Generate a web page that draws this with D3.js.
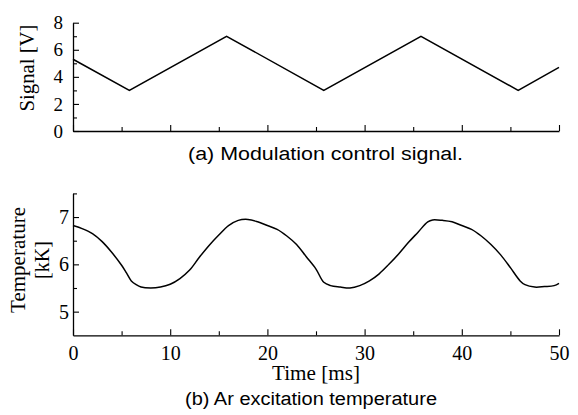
<!DOCTYPE html>
<html><head><meta charset="utf-8">
<script src="https://cdn.jsdelivr.net/npm/d3@7"></script>
<style>
html,body{margin:0;padding:0;background:#fff;}
svg{display:block;}
</style></head>
<body>
<svg id="c" width="578" height="415"></svg>
<script>
// ---- data ----
const timeDomain = [0, 50];
const signalTimes  = [0, 5.8, 15.8, 25.8, 35.8, 45.8, 50];
const signalValues = [5.3, 3.0, 7.0, 3.0, 7.0, 3.0, 4.7];
const signalTicks = [0, 2, 4, 6, 8];
const signalMinorTicks = [1, 3, 5, 7];

const tempTimes = [0, 1, 2, 3, 4, 5, 5.5, 6, 6.5, 7, 8, 9, 10, 11, 12, 13, 14, 15, 16, 17, 18, 19, 20, 21, 22, 23, 24, 25, 25.8, 26.5, 27.5, 28.5, 29.5, 30.5, 31.5, 32.5, 33.5, 34.5, 35.5, 36.5, 37, 38, 39, 40, 41, 42, 43, 44, 45, 46, 46.5, 47.5, 48.5, 49.5, 50];
const tempValues = [6.82, 6.75, 6.65, 6.48, 6.25, 5.98, 5.82, 5.65, 5.57, 5.52, 5.50, 5.52, 5.58, 5.70, 5.88, 6.15, 6.40, 6.62, 6.82, 6.93, 6.95, 6.90, 6.82, 6.74, 6.60, 6.42, 6.16, 5.90, 5.62, 5.55, 5.52, 5.50, 5.55, 5.65, 5.80, 6.00, 6.22, 6.46, 6.68, 6.90, 6.94, 6.93, 6.90, 6.82, 6.74, 6.60, 6.42, 6.20, 5.93, 5.65, 5.57, 5.52, 5.53, 5.55, 5.60];
const tempTicks = [5, 6, 7];
const tempMinorTicks = [5.5, 6.5, 7.5];
const timeTicks = [0, 10, 20, 30, 40, 50];
const timeMinorTicks = [5, 15, 25, 35, 45];

const captionA = "(a) Modulation control signal.";
const captionB = "(b) Ar excitation temperature";
const labelSignal = "Signal [V]";
const labelTemp1 = "Temperature";
const labelTemp2 = "[kK]";
const labelTime = "Time [ms]";

// ---- drawing ----
const svg = d3.select("#c");
const serif = "'Liberation Serif', 'Times New Roman', serif";
const sans = "'Liberation Sans', Arial, sans-serif";

const x = d3.scaleLinear().domain(timeDomain).range([73, 559]);
const yA = d3.scaleLinear().domain([0, 8]).range([131, 22.7]);
const yB = d3.scaleLinear().domain([4.5, 7.5]).range([335.3, 193.4]);

function styleAxis(g, fs) {
  g.attr("font-family", null).attr("font-size", null);
  g.selectAll("path.domain").attr("stroke", "#000").attr("stroke-width", 1.3);
  g.selectAll(".tick line").attr("stroke", "#000").attr("stroke-width", 1.1);
  g.selectAll("text").style("font-family", serif).style("font-size", fs + "px").attr("fill", "#000");
}

// Top panel axes
const gAy = svg.append("g").attr("transform", "translate(73,0)")
  .call(d3.axisLeft(yA).tickValues(signalTicks).tickSize(-6).tickSizeOuter(0).tickPadding(10).tickFormat(d3.format("d")));
styleAxis(gAy, 19);
const gAyMin = svg.append("g").attr("transform", "translate(73,0)")
  .call(d3.axisLeft(yA).tickValues(signalMinorTicks).tickSize(-4).tickSizeOuter(0).tickFormat(""));
styleAxis(gAyMin, 19); gAyMin.select("path.domain").remove();

const gAx = svg.append("g").attr("transform", "translate(0,131)")
  .call(d3.axisBottom(x).tickValues(timeTicks).tickSize(-6).tickSizeOuter(0).tickFormat(""));
styleAxis(gAx, 19);
const gAxMin = svg.append("g").attr("transform", "translate(0,131)")
  .call(d3.axisBottom(x).tickValues(timeMinorTicks).tickSize(-4).tickSizeOuter(0).tickFormat(""));
styleAxis(gAxMin, 19); gAxMin.select("path.domain").remove();

const lineA = d3.line().x((d, i) => x(signalTimes[i])).y(d => yA(d));
svg.append("path").datum(signalValues).attr("d", lineA)
  .attr("fill", "none").attr("stroke", "#000").attr("stroke-width", 1.5).attr("stroke-linejoin", "miter");

svg.append("text").attr("transform", "translate(34,68) rotate(-90)")
  .attr("text-anchor", "middle").style("font-family", serif).style("font-size", "20px")
  .attr("textLength", 87).attr("lengthAdjust", "spacingAndGlyphs").text(labelSignal);

svg.append("text").attr("x", 188).attr("y", 159.5)
  .style("font-family", sans).style("font-size", "18px")
  .attr("textLength", 275).attr("lengthAdjust", "spacingAndGlyphs").text(captionA);

// Bottom panel axes
const gBy = svg.append("g").attr("transform", "translate(73,0)")
  .call(d3.axisLeft(yB).tickValues(tempTicks).tickSize(-6).tickSizeOuter(0).tickPadding(4).tickFormat(d3.format("d")));
styleAxis(gBy, 20);
const gByMin = svg.append("g").attr("transform", "translate(73,0)")
  .call(d3.axisLeft(yB).tickValues(tempMinorTicks).tickSize(-4).tickSizeOuter(0).tickFormat(""));
styleAxis(gByMin, 20); gByMin.select("path.domain").remove();

const gBx = svg.append("g").attr("transform", "translate(0,335.3)")
  .call(d3.axisBottom(x).tickValues(timeTicks).tickSize(-6).tickSizeOuter(0).tickPadding(11).tickFormat(d3.format("d")));
styleAxis(gBx, 20);
const gBxMin = svg.append("g").attr("transform", "translate(0,335.3)")
  .call(d3.axisBottom(x).tickValues(timeMinorTicks).tickSize(-4).tickSizeOuter(0).tickFormat(""));
styleAxis(gBxMin, 20); gBxMin.select("path.domain").remove();

const lineB = d3.line().x((d, i) => x(tempTimes[i])).y(d => yB(d)).curve(d3.curveCatmullRom.alpha(0.5));
svg.append("path").datum(tempValues).attr("d", lineB)
  .attr("fill", "none").attr("stroke", "#000").attr("stroke-width", 1.5);

svg.append("text").attr("transform", "translate(25,260) rotate(-90)")
  .attr("text-anchor", "middle").style("font-family", serif).style("font-size", "20px")
  .attr("textLength", 106).attr("lengthAdjust", "spacingAndGlyphs").text(labelTemp1);
svg.append("text").attr("transform", "translate(49,260) rotate(-90)")
  .attr("text-anchor", "middle").style("font-family", serif).style("font-size", "20px")
  .text(labelTemp2);

svg.append("text").attr("x", 316).attr("y", 380)
  .attr("text-anchor", "middle").style("font-family", serif).style("font-size", "20px")
  .attr("textLength", 88).attr("lengthAdjust", "spacingAndGlyphs").text(labelTime);

svg.append("text").attr("x", 185).attr("y", 405)
  .style("font-family", sans).style("font-size", "18px")
  .attr("textLength", 252).attr("lengthAdjust", "spacingAndGlyphs").text(captionB);
</script>
</body></html>
